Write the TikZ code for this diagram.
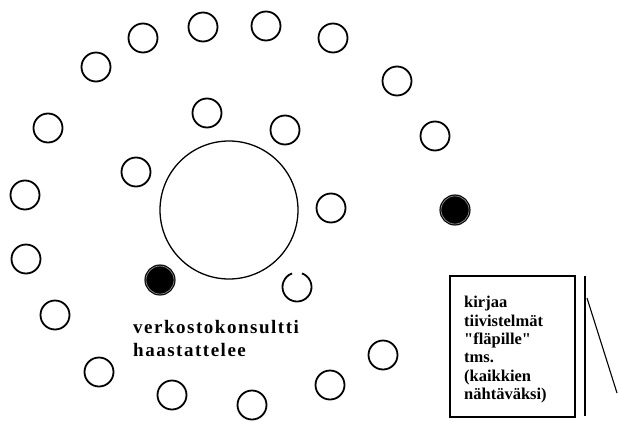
\documentclass[tikz,border=0pt]{standalone}
\usepackage{fontspec}
\setmainfont{Liberation Serif}
\newfontfamily\spacedfont[LetterSpace=8]{Liberation Serif}
\newfontfamily\plainquote[Ligatures=TeXOff]{Liberation Serif}

\begin{document}
\begin{tikzpicture}[x=1pt, y=-1pt,
    guest/.style={circle, draw=black, line width=1.8pt, minimum size=29pt,
        inner sep=0pt},
    consultant/.style={circle, draw=black, fill=black, line width=1.2pt,
        double=black!45, double distance=0.7pt, minimum size=28pt,
        inner sep=0pt},
    table/.style={circle, draw=black, line width=1.3pt, minimum size=138pt,
        inner sep=0pt},
    caption/.style={font=\spacedfont\bfseries\fontsize{19}{23}\selectfont,
        align=left, inner sep=0pt},
    note/.style={font=\plainquote\bfseries\fontsize{16.5}{18.4}\selectfont,
        align=left, inner sep=0pt},
]

\useasboundingbox (0,0) rectangle (618,423);

% === Table in the middle ===
\node[table] (tbl) at (229,210) {};

% === Outer ring of participants ===
\node[guest] (o1)  at (96,67)   {};
\node[guest] (o2)  at (143,38)  {};
\node[guest] (o3)  at (203,27)  {};
\node[guest] (o4)  at (266,26)  {};
\node[guest] (o5)  at (333,38)  {};
\node[guest] (o6)  at (397,81)  {};
\node[guest] (o7)  at (435,136) {};
\node[guest] (o8)  at (48,128)  {};
\node[guest] (o9)  at (25,195)  {};
\node[guest] (o10) at (26,259)  {};
\node[guest] (o11) at (55,315)  {};
\node[guest] (o12) at (99,372)  {};
\node[guest] (o13) at (172,395) {};
\node[guest] (o14) at (252,405) {};
\node[guest] (o15) at (330,385) {};
\node[guest] (o16) at (383,355) {};

% === Inner ring ===
\node[guest] (i1) at (207,113) {};
\node[guest] (i2) at (285,130) {};
\node[guest] (i3) at (136,172) {};
\node[guest] (i4) at (331,208) {};

% open circle (gap at the bottom)
\coordinate (i5) at (297,287);
\draw[line width=1.8pt] ([shift={(-70:14.5)}]i5)
    arc[start angle=-70, end angle=250, radius=14.5];

% === Consultants ===
\node[consultant] (k1) at (160,280) {};
\node[consultant] (k2) at (455,210) {};

\node[caption, anchor=base west] (lbl) at (133,333)
    {verkostokonsultti};
\node[caption, anchor=base west] (lbl2) at (133,356)
    {haastattelee};

% === Flip chart ===
\coordinate (fA) at (450,276);
\coordinate (fB) at (575,417);
\draw[line width=1.5pt] (fA) rectangle (fB);

\node[note, anchor=north west] (txt) at (464,296)
    {kirjaa\\tiivistelmät\\"fläpille"\\tms.\\(kaikkien\\nähtäväksi)};

\coordinate (pT) at (585,276);
\coordinate (pB) at (585,416);
\coordinate (dT) at (587,298);
\coordinate (dB) at (617,393);
\draw[line width=1.3pt] (pT) -- (pB);
\draw[line width=1.1pt] (dT) -- (dB);

\end{tikzpicture}
\end{document}
